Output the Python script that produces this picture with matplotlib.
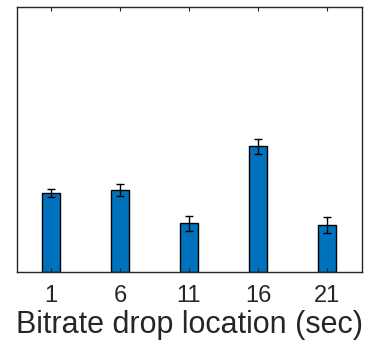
import matplotlib
matplotlib.use("Agg")
import matplotlib.pyplot as plt

categories = ["1", "6", "11", "16", "21"]
values = [29.7, 30.8, 18.4, 47.4, 17.8]
errors = [1.5, 2.3, 2.9, 2.7, 2.9]

plt.rcParams['font.family'] = ['Liberation Sans', 'DejaVu Sans']

fig = plt.figure(figsize=(3.69, 3.54), dpi=100)
ax = fig.add_axes([16.5/369, 1 - 272/354, 345/369, 265/354])

pos = list(range(1, len(categories) + 1))
ax.bar(pos, values, width=0.25, color='#0072BD', edgecolor='black', linewidth=1.0)
ax.errorbar(pos, values, yerr=errors, fmt='none', ecolor='black', elinewidth=1.0,
            capsize=3, capthick=1.0)

ax.set_xlim(0.5, 5.5)
ax.set_ylim(0, 100)
ax.set_xticks(pos)
ax.set_xticklabels(categories, fontsize=17, color='#262626')
ax.set_yticks([])
ax.tick_params(axis='x', direction='in', length=3, width=0.8, color='#262626',
               top=True, pad=9)
for s in ax.spines.values():
    s.set_color('#262626')
    s.set_linewidth(1.0)
ax.set_xlabel("Bitrate drop location (sec)", fontsize=22, color='#262626', labelpad=2.5)

fig.savefig("out.png", dpi=100)
